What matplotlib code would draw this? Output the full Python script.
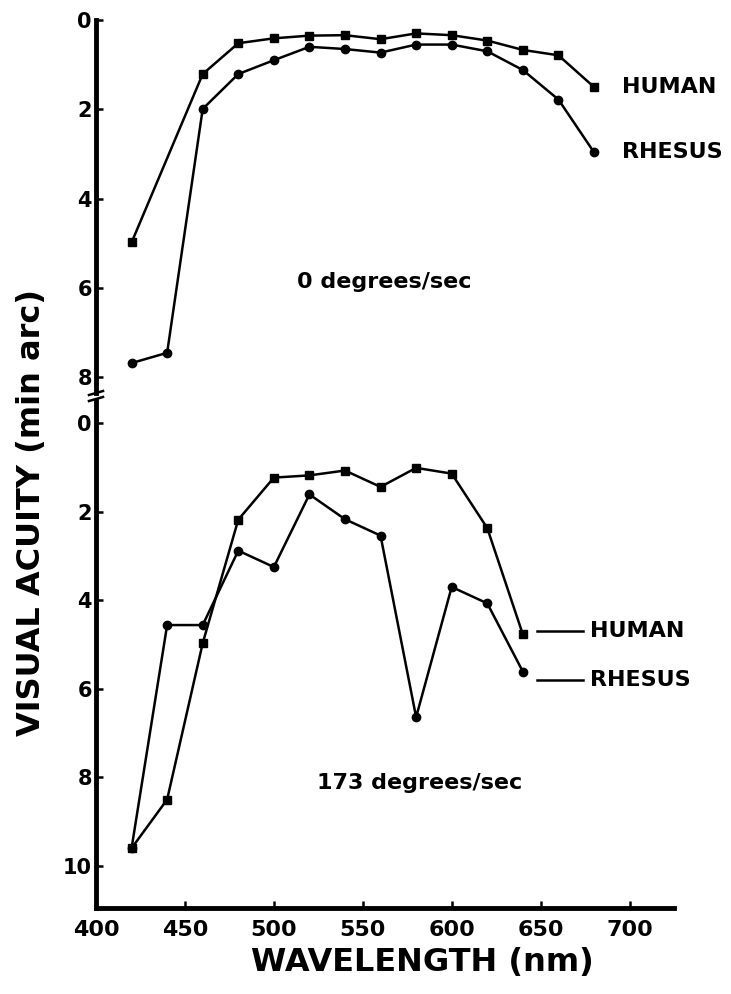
import numpy as np
import matplotlib
matplotlib.use('Agg')
import matplotlib.pyplot as plt
from matplotlib.lines import Line2D

plt.rcParams['font.family'] = ['DejaVu Sans']
plt.rcParams['font.weight'] = 'bold'

# 0 degrees/sec (top panel)
wl_still_rhesus = [420, 440, 460, 480, 500, 520, 540, 560, 580, 600, 620, 640, 660, 680]
rhesus_still = [7.68, 7.45, 1.99, 1.21, 0.90, 0.60, 0.65, 0.73, 0.55, 0.55, 0.70, 1.12, 1.78, 2.96]
wl_still_human = [420, 460, 480, 500, 520, 540, 560, 580, 600, 620, 640, 660, 680]
human_still = [4.98, 1.21, 0.52, 0.41, 0.35, 0.34, 0.43, 0.30, 0.34, 0.46, 0.67, 0.79, 1.50]

# 173 degrees/sec (bottom panel)
wl_moving = [420, 440, 460, 480, 500, 520, 540, 560, 580, 600, 620, 640]
human_moving = [9.6, 8.5, 4.97, 2.18, 1.23, 1.18, 1.07, 1.44, 1.01, 1.14, 2.37, 4.77]
rhesus_moving = [9.6, 4.56, 4.56, 2.88, 3.25, 1.61, 2.17, 2.54, 6.64, 3.70, 4.07, 5.61]

x_ticks = [400, 450, 500, 550, 600, 650, 700]

W, H = 731, 994
fig = plt.figure(figsize=(W / 100, H / 100), dpi=100)

left = 96 / W
width = (674 - 96) / W
ax1 = fig.add_axes([left, 1 - 393 / H, width, (393 - 20) / H])
ax2 = fig.add_axes([left, 1 - 908 / H, width, (908 - 401) / H])

line_kw = dict(color='black', lw=1.8, clip_on=False)
mk = 6

def style(ax):
    for s in ['top', 'right']:
        ax.spines[s].set_visible(False)
    ax.spines['left'].set_linewidth(3.5)
    ax.spines['bottom'].set_linewidth(3.5)
    ax.tick_params(direction='in', length=5, width=1.8, labelsize=15)
    ax.tick_params(axis='y', pad=3)
    ax.set_xlim(400, 725)

# top panel
style(ax1)
ax1.spines['bottom'].set_visible(False)
ax1.plot(wl_still_human, human_still, marker='s', ms=mk, **line_kw)
ax1.plot(wl_still_rhesus, rhesus_still, marker='o', ms=mk, **line_kw)
ax1.set_ylim(8.35, 0)
ax1.set_yticks([0, 2, 4, 6, 8])
ax1.set_xticks([])
ax1.text(wl_still_human[-1] + 16, human_still[-1], 'HUMAN', fontsize=16,
         fontweight='bold', va='center', ha='left', clip_on=False)
ax1.text(wl_still_rhesus[-1] + 16, rhesus_still[-1], 'RHESUS', fontsize=16,
         fontweight='bold', va='center', ha='left', clip_on=False)
ax1.text(562, 5.86, '0 degrees/sec', fontsize=16, fontweight='bold',
         ha='center', va='center')

# bottom panel
style(ax2)
ax2.plot(wl_moving, human_moving, marker='s', ms=mk, **line_kw)
ax2.plot(wl_moving, rhesus_moving, marker='o', ms=mk, **line_kw)
ax2.set_ylim(10.95, -0.5)
ax2.set_yticks([0, 2, 4, 6, 8, 10])
ax2.set_xticks(x_ticks)
ax2.tick_params(axis='x', labelsize=16, pad=9)
for y, name in [(4.7, 'HUMAN'), (5.8, 'RHESUS')]:
    ax2.plot([wl_moving[-1] + 8, wl_moving[-1] + 34], [y, y], color='black',
             lw=1.8, clip_on=False)
    ax2.text(wl_moving[-1] + 38, y, name, fontsize=16, fontweight='bold',
             va='center', ha='left', clip_on=False)
ax2.text(582, 8.12, '173 degrees/sec', fontsize=16, fontweight='bold',
         ha='center', va='center')

# axis break marks
for yb in [393, 399]:
    fig.add_artist(Line2D([(96 - 7) / W, (96 + 7) / W],
                          [1 - (yb + 2) / H, 1 - (yb - 2) / H],
                          color='black', lw=1.8))

fig.text(32 / W, 1 - 513 / H, 'VISUAL ACUITY (min arc)', rotation=90,
         fontsize=23, fontweight='bold', ha='center', va='center')
fig.text(422 / W, 1 - 962 / H, 'WAVELENGTH (nm)', fontsize=23,
         fontweight='bold', ha='center', va='center')

fig.savefig('out.png', dpi=100)
